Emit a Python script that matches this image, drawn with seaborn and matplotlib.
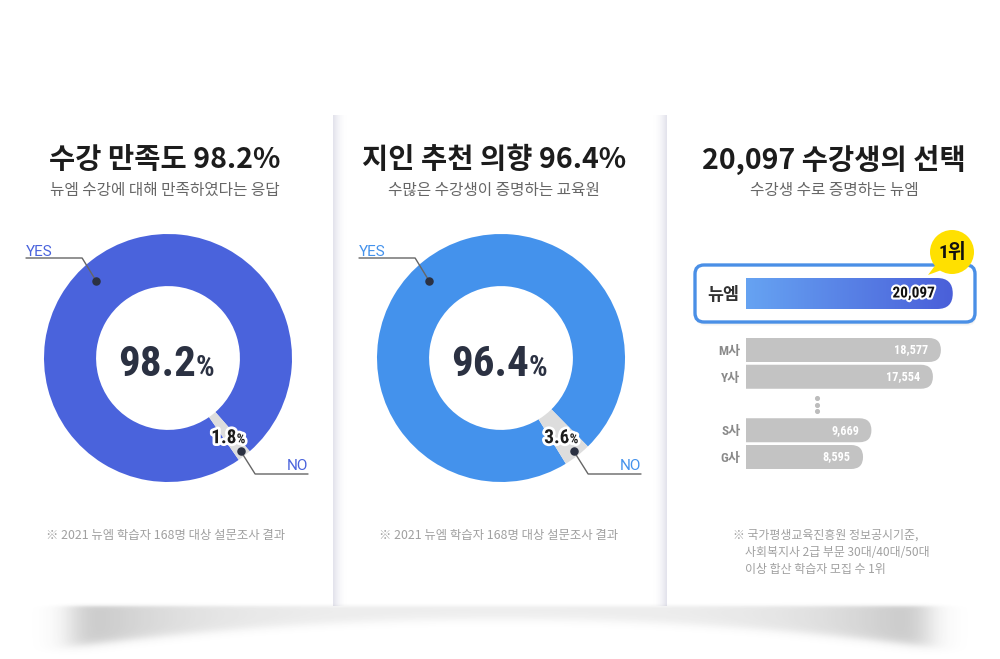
import numpy as np
import pandas as pd
import matplotlib
matplotlib.use("Agg")
import matplotlib.pyplot as plt
import matplotlib.patheffects as pe
from matplotlib.patches import FancyBboxPatch, Circle, Polygon
from matplotlib.colors import LinearSegmentedColormap
from matplotlib import font_manager as fm
import seaborn as sns

# --- chart data ---
satisfaction = [98.2, 1.8]      # YES, NO
recommend = [96.4, 3.6]         # YES, NO
pie_labels = ["YES", "NO"]

top_academy = ["뉴엠"]
top_students = [20097]
other_academies = ["M사", "Y사", "", "S사", "G사"]   # "" = skipped ranks
other_students = [18577, 17554, np.nan, 9669, 8595]

titles = ["수강 만족도 98.2%", "지인 추천 의향 96.4%", "20,097 수강생의 선택"]
subtitles = ["뉴엠 수강에 대해 만족하였다는 응답", "수많은 수강생이 증명하는 교육원",
             "수강생 수로 증명하는 뉴엠"]
survey_note = "※ 2021 뉴엠 학습자 168명 대상 설문조사 결과"
rank_note = ["※ 국가평생교육진흥원 정보공시기준,", "사회복지사 2급 부문 30대/40대/50대",
             "이상 합산 학습자 모집 수 1위"]

# --- style ---
sns.set_theme(style="white")
plt.rcParams['font.family'] = ['Noto Sans CJK KR', 'DejaVu Sans']
names = {f.name for f in fm.fontManager.ttflist}
cond = next((n for n in ["Roboto Condensed", "Liberation Sans Narrow"] if n in names), "Roboto")
NUM = [cond, 'Noto Sans CJK KR', 'DejaVu Sans']

W, H = 1000, 659
fig = plt.figure(figsize=(10, 6.59), dpi=100)
fig.patch.set_facecolor('white')


def rect(x0, y0, x1, y1):
    # pixel box (y downwards) -> figure fraction
    return [x0 / W, 1 - y1 / H, (x1 - x0) / W, (y1 - y0) / H]


def pixel_axes(z):
    a = fig.add_axes([0, 0, 1, 1], zorder=z)
    a.set_xlim(0, W)
    a.set_ylim(H, 0)
    a.axis('off')
    a.patch.set_alpha(0)
    return a


bg = pixel_axes(0)
top = pixel_axes(10)

# side shadows of the middle card
strip = LinearSegmentedColormap.from_list('strip', ['white', '#e3e3ec'])
g = np.linspace(1, 0, 16)[None, :] ** 1.8
bg.imshow(g, extent=(333, 347, 606, 115), cmap=strip, vmin=0, vmax=1, aspect='auto')
bg.imshow(g[:, ::-1], extent=(653, 667, 606, 115), cmap=strip, vmin=0, vmax=1, aspect='auto')

# curved shadow below the cards
xs = np.arange(0, W) + 0.5
ys = np.arange(600, H) + 0.5
X, Y = np.meshgrid(xs, ys)
xn = np.abs((X - 500) / 432)
yb = 619 + 28 * np.clip(xn, 0, 1.1) ** 2
amp = 0.09 + 0.24 * np.clip(xn, 0, 1) ** 4
endfade = 1 / (1 + np.exp((xn - 0.985) / 0.022))
vert = 1 / (1 + np.exp((Y - yb) / 2.5)) / (1 + np.exp(-(Y - 606) / 1.0))
shade = np.zeros(Y.shape + (4,))
shade[..., :3] = 0.22
shade[..., 3] = amp * endfade * vert
bg.imshow(shade, extent=(0, W, H, 600), origin='upper', aspect='auto', interpolation='bilinear')
bg.set_xlim(0, W)
bg.set_ylim(H, 0)

# titles
for cx, t, s in zip([165, 494, 834], titles, subtitles):
    bg.text(cx, 160, t, ha='center', va='center', fontsize=20.5, fontweight='black',
            color='#1c1c1c')
    bg.text(cx, 190, s, ha='center', va='center', fontsize=11.3, color='#666666')

renderer = fig.canvas.get_renderer()


def pct_text(x, y, number, size, color, stroke=0, pct_scale=0.62):
    kw = dict(va='baseline', ha='left', fontweight='bold', color=color, family=NUM)
    if stroke:
        kw['path_effects'] = [pe.withStroke(linewidth=stroke, foreground='white')]
    t1 = top.text(x, y, number, fontsize=size, **kw)
    t2 = top.text(x, y, '%', fontsize=size * pct_scale, **kw)
    w1 = t1.get_window_extent(renderer).width
    w2 = t2.get_window_extent(renderer).width
    t1.set_x(x - (w1 + w2) / 2)
    t2.set_x(x - (w1 + w2) / 2 + w1)


# --- donuts ---
CY, R = 358, 124
NO_ANGLE = -52
for values, color, cx in [(satisfaction, '#4a63dc', 168), (recommend, '#4492ec', 501)]:
    ax = fig.add_axes(rect(cx - 130, CY - 130, cx + 130, CY + 130), zorder=2)
    start = NO_ANGLE - 3.6 * values[0] - 1.8 * values[1]
    ax.pie(values, colors=[color, '#dddddd'], startangle=start, counterclock=True,
           radius=1, wedgeprops=dict(width=0.42, edgecolor='none'))
    ax.set_xlim(-130 / R, 130 / R)
    ax.set_ylim(-130 / R, 130 / R)
    ax.patch.set_alpha(0)

    pct_text(cx - 2, 376, f"{values[0]:.1f}", 31, '#2b3142', pct_scale=0.68)

    # YES leader
    a = np.deg2rad(133)
    dx, dy = cx + 0.85 * R * np.cos(a), CY - 0.85 * R * np.sin(a)
    top.plot([cx - 142, dx - 14, dx], [258, 258, dy], color='#666666', lw=1)
    top.scatter([dx], [dy], s=26, color='#2b3142', zorder=5)
    top.text(cx - 142, 256, pie_labels[0], ha='left', va='baseline', fontsize=11,
             color=color, family=['Roboto', 'DejaVu Sans'])

    # NO leader
    a = np.deg2rad(NO_ANGLE)
    dx, dy = cx + 0.95 * R * np.cos(a), CY - 0.95 * R * np.sin(a)
    top.plot([dx, dx + 14.6, cx + 140], [dy, 474, 474], color='#666666', lw=1)
    top.scatter([dx], [dy], s=26, color='#2b3142', zorder=5)
    top.text(cx + 140, 469.5, pie_labels[1], ha='right', va='baseline', fontsize=11,
             color=color, family=['Roboto', 'DejaVu Sans'])
    lx, ly = cx + 0.79 * R * np.cos(a), CY - 0.79 * R * np.sin(a)
    pct_text(lx, ly + 8, f"{values[1]:.1f}", 14, '#1c1c1c', stroke=4, pct_scale=0.7)

    top.text(cx - 2, 536, survey_note, ha='center', va='center', fontsize=8.9, color='#a0a0a0')

# --- ranking bars ---
PX_PER = 0.0078              # pixels per student
X0 = 50 / PX_PER             # bars start left of zero
BAR_L, BAR_R = 746, 966
xlim = (-X0, -X0 + (BAR_R - BAR_L) / PX_PER)

# highlight box
for k in range(4):
    bg.add_patch(FancyBboxPatch((695 + 1, 265 + 1 + k), 280, 57,
                                boxstyle='round,pad=0,rounding_size=9',
                                fc='black', ec='none', alpha=0.025))
bg.add_patch(FancyBboxPatch((695, 265), 280, 57, boxstyle='round,pad=0,rounding_size=9',
                            fc='white', ec='#4a8fe6', lw=2.4))


def round_bars(ax, color=None, cmap=None, label_kw=None, pad=-7):
    xl = ax.get_xlim()
    yl = ax.get_ylim()
    bbox = ax.get_window_extent(renderer)
    upp_x = (xl[1] - xl[0]) / bbox.width
    upp_y = abs(yl[1] - yl[0]) / bbox.height
    for p in list(ax.patches):
        v, y, h = p.get_width(), p.get_y(), p.get_height()
        p.remove()
        if not np.isfinite(v):
            continue
        rs = 0.5 * h / upp_y * upp_x
        left = xl[0] - 2 * rs
        box = FancyBboxPatch((left, y), v - left, h,
                             boxstyle=f"round,pad=0,rounding_size={rs}",
                             mutation_aspect=upp_y / upp_x,
                             fc=color if color else 'none', ec='none')
        ax.add_patch(box)
        if cmap is not None:
            im = ax.imshow(np.linspace(0, 1, 256)[None, :], cmap=cmap, aspect='auto',
                           extent=(xl[0], v, y + h, y), interpolation='bilinear')
            im.set_clip_path(box)
        ax.annotate(f"{int(v):,}", xy=(v, y + h / 2), xytext=(pad, 0),
                    textcoords='offset points', ha='right', va='center', **label_kw)
    ax.set_xlim(xl)
    ax.set_ylim(yl)


def bar_axes(y0, y1):
    ax = fig.add_axes(rect(BAR_L, y0, BAR_R, y1), zorder=3)
    ax.patch.set_alpha(0)
    for sp in ax.spines.values():
        sp.set_visible(False)
    return ax


# top academy
df_top = pd.DataFrame({'academy': top_academy, 'students': top_students})
ax_hi = bar_axes(293.5 - 17.5, 293.5 + 17.5)
sns.barplot(data=df_top, x='students', y='academy', color='#4a63dc', width=31 / 35,
            ax=ax_hi)
ax_hi.set_xlim(xlim)
ax_hi.set_ylim(0.5, -0.5)
grad = LinearSegmentedColormap.from_list('bar', ['#66a3f2', '#4a5fd9'])
round_bars(ax_hi, cmap=grad, pad=-13,
           label_kw=dict(fontsize=11, fontweight='bold', color='#111111', family=NUM,
                         path_effects=[pe.withStroke(linewidth=3, foreground='white')]))

# other academies
df_oth = pd.DataFrame({'academy': other_academies, 'students': other_students})
slot = (457 - 350) / 4
ax_gr = bar_axes(350 - slot / 2, 457 + slot / 2)
sns.barplot(data=df_oth, x='students', y='academy', order=other_academies,
            color='#c3c3c3', width=24 / slot, ax=ax_gr)
ax_gr.set_xlim(xlim)
ax_gr.set_ylim(len(other_academies) - 0.5, -0.5)
round_bars(ax_gr, color='#c3c3c3', pad=-9,
           label_kw=dict(fontsize=8.8, fontweight='bold', color='white', family=NUM))

for ax, size, col, pad in [(ax_hi, 12.5, '#333333', 5), (ax_gr, 9.5, '#8a8a8a', 4)]:
    ax.set_xlabel('')
    ax.set_ylabel('')
    ax.set_xticks([])
    ax.tick_params(axis='y', length=0, pad=pad)
    for lab in ax.get_yticklabels():
        lab.set_fontsize(size)
        lab.set_fontweight('bold')
        lab.set_color(col)
        lab.set_family(NUM)

# skipped ranks
top.scatter([817, 817, 817], [398, 404.5, 411], s=7, color='#bdbdbd', zorder=5)

# 1위 badge
top.add_patch(Polygon([(937, 263), (928, 275), (947, 268)], closed=True, fc='#ffe000', ec='none'))
top.add_patch(Circle((952, 252), 22, fc='#ffe000', ec='none'))
top.text(952, 252, "1위", ha='center', va='center', fontsize=14, fontweight='bold',
         color='#111111', family=NUM)

# ranking note
for i, line in enumerate(rank_note):
    top.text(733 if i == 0 else 745, 535 + 17 * i, line, ha='left', va='center',
             fontsize=8.6, color='#a0a0a0')

fig.savefig('out.png', dpi=100, facecolor='white')
